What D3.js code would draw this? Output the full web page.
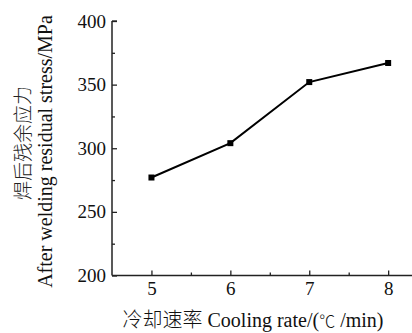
<!DOCTYPE html>
<html>
<head>
<meta charset="utf-8">
<script src="https://cdn.jsdelivr.net/npm/d3@7"></script>
<style>
  html, body { margin: 0; padding: 0; background: #fff; }
  svg { display: block; }
  .serif { font-family: "Liberation Serif", "Times New Roman", serif; }
</style>
</head>
<body>
<svg id="chart" width="412" height="333"></svg>
<script>
// Cooling rate (℃/min) against residual stress after welding (MPa)
const coolingRates = [5, 6, 7, 8];
const residualStress = [277, 304, 352, 367];

const xMajorTicks = [5, 6, 7, 8];
const xMinorTicks = [5.5, 6.5, 7.5];
const yMajorTicks = [200, 250, 300, 350, 400];
const yMinorTicks = [225, 275, 325, 375];

const yTitleCn = "焊后残余应力";
const yTitleEn = "After welding residual stress/MPa";
const xTitleCn = "冷却速率";
const xTitleEn = " Cooling rate/(";
const xTitleUnit = "℃";
const xTitleTail = " /min)";

const svg = d3.select("#chart");
const plotLeft = 112, plotTop = 21, plotBottom = 275.5;

const x = d3.scaleLinear().domain([4.5, 8.5]).range([plotLeft, plotLeft + 4 * 78.9]);
const y = d3.scaleLinear().domain([200, 400]).range([plotBottom, plotTop]);

const axisColor = "#222";
const g = svg.append("g");

// Minor ticks (inward, short)
g.append("g")
  .attr("transform", `translate(0,${plotBottom})`)
  .call(d3.axisBottom(x).tickValues(xMinorTicks).tickSize(-3).tickFormat(""))
  .call(s => s.select(".domain").remove());
g.append("g")
  .attr("transform", `translate(${plotLeft},0)`)
  .call(d3.axisLeft(y).tickValues(yMinorTicks).tickSize(-3).tickFormat(""))
  .call(s => s.select(".domain").remove());

// Major ticks with labels
const xAxis = g.append("g")
  .attr("transform", `translate(0,${plotBottom})`)
  .call(d3.axisBottom(x).tickValues(xMajorTicks).tickSize(-5).tickPadding(6.5).tickFormat(d3.format("d")));
const yAxis = g.append("g")
  .attr("transform", `translate(${plotLeft},0)`)
  .call(d3.axisLeft(y).tickValues(yMajorTicks).tickSize(-5).tickPadding(6).tickFormat(d3.format("d")));

xAxis.select(".domain").remove();
yAxis.select(".domain").remove();

g.selectAll(".tick line").attr("stroke", axisColor).attr("stroke-width", 1.3);
g.selectAll(".tick text")
  .attr("class", "serif")
  .attr("font-size", 19)
  .attr("fill", "#111");

// Axis lines
svg.append("line")
  .attr("x1", plotLeft).attr("x2", plotLeft)
  .attr("y1", y(400)).attr("y2", plotBottom)
  .attr("stroke", axisColor).attr("stroke-width", 1.5);
svg.append("line")
  .attr("x1", plotLeft).attr("x2", 412)
  .attr("y1", plotBottom).attr("y2", plotBottom)
  .attr("stroke", axisColor).attr("stroke-width", 1.5);
// short cap at the top of the y axis
svg.append("line")
  .attr("x1", plotLeft).attr("x2", plotLeft + 5)
  .attr("y1", y(400)).attr("y2", y(400))
  .attr("stroke", axisColor).attr("stroke-width", 1.3);

// Data line and square markers
const pts = coolingRates.map((c, i) => [c, residualStress[i]]);
svg.append("path")
  .datum(pts)
  .attr("fill", "none")
  .attr("stroke", "#000")
  .attr("stroke-width", 2)
  .attr("d", d3.line().x(d => x(d[0])).y(d => y(d[1])));

svg.selectAll("rect.marker")
  .data(pts)
  .join("rect")
  .attr("class", "marker")
  .attr("x", d => x(d[0]) - 3)
  .attr("y", d => y(d[1]) - 3)
  .attr("width", 6)
  .attr("height", 6)
  .attr("fill", "#000");

// Y axis titles (rotated)
svg.append("text")
  .attr("transform", "translate(30,143) rotate(-90)")
  .attr("text-anchor", "middle")
  .attr("font-family", "Noto Sans CJK SC")
  .attr("font-size", 19)
  .attr("font-weight", 300)
  .attr("fill", "#222")
  .text(yTitleCn);
svg.append("text")
  .attr("class", "serif")
  .attr("transform", "translate(52,151.5) rotate(-90)")
  .attr("text-anchor", "middle")
  .attr("font-size", 20)
  .attr("fill", "#111")
  .text(yTitleEn);

// X axis title
const xt = svg.append("text")
  .attr("x", 253)
  .attr("y", 327)
  .attr("text-anchor", "middle")
  .attr("font-size", 20)
  .attr("fill", "#111");
xt.append("tspan").attr("font-family", "Noto Sans CJK SC").attr("font-weight", 300).text(xTitleCn);
xt.append("tspan").attr("class", "serif").text(xTitleEn);
xt.append("tspan").attr("font-family", "Noto Sans CJK SC").attr("font-weight", 300).attr("font-size", 16).text(xTitleUnit);
xt.append("tspan").attr("class", "serif").text(xTitleTail);
</script>
</body>
</html>
